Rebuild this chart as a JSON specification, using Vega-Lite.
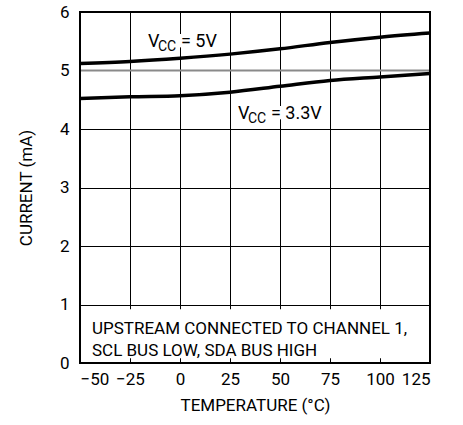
{
  "$schema": "https://vega.github.io/schema/vega-lite/v6.json",
  "width": 350,
  "height": 351,
  "autosize": "none",
  "padding": {"left": 80, "top": 12, "right": 33, "bottom": 62},
  "config": {
    "view": {"stroke": null},
    "font": "Roboto",
    "text": {"font": "Roboto"},
    "axis": {
      "labelFont": "Roboto",
      "titleFont": "Roboto",
      "labelFontSize": 17,
      "titleFontSize": 17,
      "titleFontWeight": "normal",
      "labelColor": "black",
      "titleColor": "black",
      "domain": false,
      "ticks": false,
      "tickSize": 0
    }
  },
  "datasets": {
    "curves": [
      {"t": -50, "i": 5.12, "s": "5V"},
      {"t": -25, "i": 5.155, "s": "5V"},
      {"t": 0, "i": 5.21, "s": "5V"},
      {"t": 25, "i": 5.28, "s": "5V"},
      {"t": 50, "i": 5.37, "s": "5V"},
      {"t": 75, "i": 5.48, "s": "5V"},
      {"t": 100, "i": 5.57, "s": "5V"},
      {"t": 125, "i": 5.64, "s": "5V"},
      {"t": -50, "i": 4.52, "s": "3.3V"},
      {"t": -25, "i": 4.55, "s": "3.3V"},
      {"t": 0, "i": 4.57, "s": "3.3V"},
      {"t": 25, "i": 4.63, "s": "3.3V"},
      {"t": 50, "i": 4.73, "s": "3.3V"},
      {"t": 75, "i": 4.83, "s": "3.3V"},
      {"t": 100, "i": 4.89, "s": "3.3V"},
      {"t": 125, "i": 4.95, "s": "3.3V"}
    ],
    "labels": [
      {"t": -16, "i": 5.407, "v": "V", "sub": "CC", "rest": "= 5V"},
      {"t": 29, "i": 4.166, "v": "V", "sub": "CC", "rest": "= 3.3V"}
    ],
    "notes": [
      {"t": -44, "i": 0.5, "line": "UPSTREAM CONNECTED TO CHANNEL 1,"},
      {"t": -44, "i": 0.12, "line": "SCL BUS LOW, SDA BUS HIGH"}
    ],
    "box": [{"x0": -50, "x1": 125, "y0": 0, "y1": 6}]
  },
  "layer": [
    {
      "data": {"name": "box"},
      "mark": {"type": "rect", "fill": "white"},
      "encoding": {
        "x": {
          "field": "x0", "type": "quantitative",
          "scale": {"domain": [-50, 125], "nice": false, "zero": false},
          "axis": {
            "values": [-50, -25, 0, 25, 50, 75, 100, 125],
            "grid": true, "gridColor": "black", "gridWidth": 1,
            "labelPadding": 8,
            "labelExpr": "replace(datum.label, '-', '\u2212')",
            "title": "TEMPERATURE (\u00b0C)",
            "titlePadding": 10
          }
        },
        "x2": {"field": "x1"},
        "y": {
          "datum": 0.08, "type": "quantitative",
          "scale": {"domain": [0, 6], "nice": false, "zero": false},
          "axis": {
            "values": [0, 1, 2, 3, 4, 5, 6],
            "format": "d",
            "grid": true,
            "gridColor": {"condition": {"test": "datum.value === 5", "value": "#8a8a8a"}, "value": "black"},
            "gridWidth": {"condition": {"test": "datum.value === 5", "value": 2}, "value": 1},
            "labelPadding": 11,
            "title": "CURRENT (mA)",
            "titlePadding": 24
          }
        },
        "y2": {"datum": 0.92}
      }
    },
    {
      "data": {"name": "labels"},
      "mark": {"type": "text", "align": "left", "baseline": "alphabetic", "fontSize": 18, "stroke": "white", "strokeWidth": 8, "fill": "white"},
      "encoding": {"x": {"field": "t", "type": "quantitative"}, "y": {"field": "i", "type": "quantitative"}, "text": {"field": "v"}}
    },
    {
      "data": {"name": "labels"},
      "mark": {"type": "text", "align": "left", "baseline": "alphabetic", "fontSize": 14, "dx": 10, "dy": 4, "stroke": "white", "strokeWidth": 8, "fill": "white"},
      "encoding": {"x": {"field": "t", "type": "quantitative"}, "y": {"field": "i", "type": "quantitative"}, "text": {"field": "sub"}}
    },
    {
      "data": {"name": "labels"},
      "mark": {"type": "text", "align": "left", "baseline": "alphabetic", "fontSize": 18, "dx": 33, "stroke": "white", "strokeWidth": 8, "fill": "white"},
      "encoding": {"x": {"field": "t", "type": "quantitative"}, "y": {"field": "i", "type": "quantitative"}, "text": {"field": "rest"}}
    },
    {
      "data": {"name": "labels"},
      "mark": {"type": "text", "align": "left", "baseline": "alphabetic", "fontSize": 18, "color": "black"},
      "encoding": {"x": {"field": "t", "type": "quantitative"}, "y": {"field": "i", "type": "quantitative"}, "text": {"field": "v"}}
    },
    {
      "data": {"name": "labels"},
      "mark": {"type": "text", "align": "left", "baseline": "alphabetic", "fontSize": 14, "dx": 10, "dy": 4, "color": "black"},
      "encoding": {"x": {"field": "t", "type": "quantitative"}, "y": {"field": "i", "type": "quantitative"}, "text": {"field": "sub"}}
    },
    {
      "data": {"name": "labels"},
      "mark": {"type": "text", "align": "left", "baseline": "alphabetic", "fontSize": 18, "dx": 33, "color": "black"},
      "encoding": {"x": {"field": "t", "type": "quantitative"}, "y": {"field": "i", "type": "quantitative"}, "text": {"field": "rest"}}
    },
    {
      "data": {"name": "notes"},
      "mark": {"type": "text", "align": "left", "baseline": "alphabetic", "fontSize": 17, "color": "black"},
      "encoding": {"x": {"field": "t", "type": "quantitative"}, "y": {"field": "i", "type": "quantitative"}, "text": {"field": "line"}}
    },
    {
      "data": {"name": "curves"},
      "mark": {"type": "line", "color": "black", "strokeWidth": 3.5, "interpolate": "monotone"},
      "encoding": {
        "x": {"field": "t", "type": "quantitative"},
        "y": {"field": "i", "type": "quantitative"},
        "detail": {"field": "s"}
      }
    },
    {
      "data": {"name": "box"},
      "mark": {"type": "rect", "fillOpacity": 0, "stroke": "black", "strokeWidth": 2},
      "encoding": {
        "x": {"field": "x0", "type": "quantitative"},
        "x2": {"field": "x1"},
        "y": {"field": "y0", "type": "quantitative"},
        "y2": {"field": "y1"}
      }
    }
  ]
}
